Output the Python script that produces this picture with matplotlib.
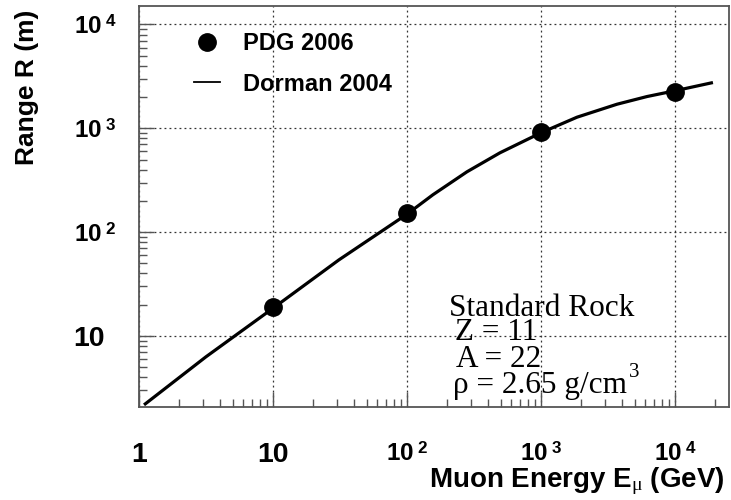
import matplotlib
matplotlib.use("Agg")
import matplotlib.pyplot as plt
from matplotlib.lines import Line2D
from matplotlib.ticker import LogLocator, FixedLocator, FixedFormatter, NullFormatter

# 字型設定: 無襯線粗體 (ROOT 風格)
plt.rcParams['font.family'] = ['Liberation Sans', 'DejaVu Sans']
plt.rcParams['axes.labelweight'] = 'bold'
plt.rcParams['mathtext.fontset'] = 'custom'
plt.rcParams['mathtext.rm'] = 'Liberation Sans:bold'
plt.rcParams['mathtext.bf'] = 'Liberation Sans:bold'
plt.rcParams['mathtext.it'] = 'Liberation Serif'

# PDG 2006 數據點
pdg_energy = [10, 100, 1000, 10000]
pdg_range = [19, 152, 915, 2250]

# Dorman 2004 曲線
dorman_energy = [1.09, 3.16, 10, 31, 100, 156, 280, 494, 1000, 1857, 3690, 6180, 10000, 19200]
dorman_range = [2.17, 6.3, 18.5, 54, 149, 229, 381, 581, 906, 1280, 1706, 2023, 2300, 2760]

# 刻度
x_ticks = [1, 10, 100, 1000, 10000]
x_labels = ['1', '10', r'$10^{\ 2}$', r'$10^{\ 3}$', r'$10^{\ 4}$']
y_ticks = [10, 100, 1000, 10000]
y_labels = ['10', r'$10^{\ 2}$', r'$10^{\ 3}$', r'$10^{\ 4}$']

fig = plt.figure(figsize=(7.31, 5.0), dpi=100)
ax = fig.add_axes([139 / 731, 93 / 500, 590 / 731, 401 / 500])

ax.plot(dorman_energy, dorman_range, color='black', lw=2.3, solid_capstyle='butt')
ax.plot(pdg_energy, pdg_range, 'o', color='black', ms=12.5)

ax.set_xscale('log')
ax.set_yscale('log')
ax.set_xlim(1, 25300)
ax.set_ylim(2.07, 15070)

ax.xaxis.set_major_locator(FixedLocator(x_ticks))
ax.xaxis.set_major_formatter(FixedFormatter(x_labels))
ax.yaxis.set_major_locator(FixedLocator(y_ticks))
ax.yaxis.set_major_formatter(FixedFormatter(y_labels))
ax.xaxis.set_minor_locator(LogLocator(base=10, subs=range(2, 10), numticks=20))
ax.yaxis.set_minor_locator(LogLocator(base=10, subs=range(2, 10), numticks=20))
ax.xaxis.set_minor_formatter(NullFormatter())
ax.yaxis.set_minor_formatter(NullFormatter())

frame_col = '#555555'
for s in ax.spines.values():
    s.set_color(frame_col)
    s.set_linewidth(1.3)

ax.tick_params(which='both', direction='in', color=frame_col, width=1.0)
ax.tick_params(which='major', length=11)
ax.tick_params(which='minor', length=6)
ax.tick_params(axis='x', which='major', pad=25)
ax.tick_params(axis='y', which='major', pad=47)

fig.canvas.draw()
for lab in ax.get_xticklabels() + ax.get_yticklabels():
    lab.set_fontweight('bold')
    lab.set_fontsize(17.5 if '^' in lab.get_text() else 20.5)
for lab in ax.get_yticklabels():
    lab.set_horizontalalignment('left')

ax.grid(True, which='major', linestyle=(0, (1.5, 2.5)), color='#333333', linewidth=0.9)

ax.set_ylabel('Range R (m)', fontsize=19, loc='top')
ax.yaxis.set_label_coords(-0.17, 0.99)
ax.set_xlabel(r'Muon Energy E$_{\mu}$ (GeV)', fontsize=20, loc='right')
ax.xaxis.set_label_coords(0.993, -0.145)

# 圖例
handles = [Line2D([], [], marker='o', ls='none', color='black', ms=12.5),
           Line2D([], [], color='black', lw=1.3)]
ax.legend(handles, ['PDG 2006', 'Dorman 2004'], loc='upper left',
          bbox_to_anchor=(0.073, 0.965), frameon=False,
          prop={'size': 17, 'weight': 'bold'},
          handlelength=1.1, handletextpad=1.0, labelspacing=0.75, borderpad=0)

# 標準岩石參數
serif = dict(family='Liberation Serif', fontweight='normal', fontsize=22.5,
             transform=ax.transAxes, va='baseline')
ax.text(0.525, 0.227, 'Standard Rock', **serif)
ax.text(0.535, 0.167, 'Z = 11', **serif)
ax.text(0.538, 0.100, 'A = 22', **serif)
t = ax.text(0.533, 0.035, 'ρ = 2.65 g/cm', **serif)
fig.canvas.draw()
bb = t.get_window_extent().transformed(ax.transAxes.inverted())
ax.text(bb.x1 + 0.002, 0.075, '3', family='Liberation Serif', fontsize=15,
        transform=ax.transAxes, va='baseline')

fig.savefig('out.png', dpi=100)
